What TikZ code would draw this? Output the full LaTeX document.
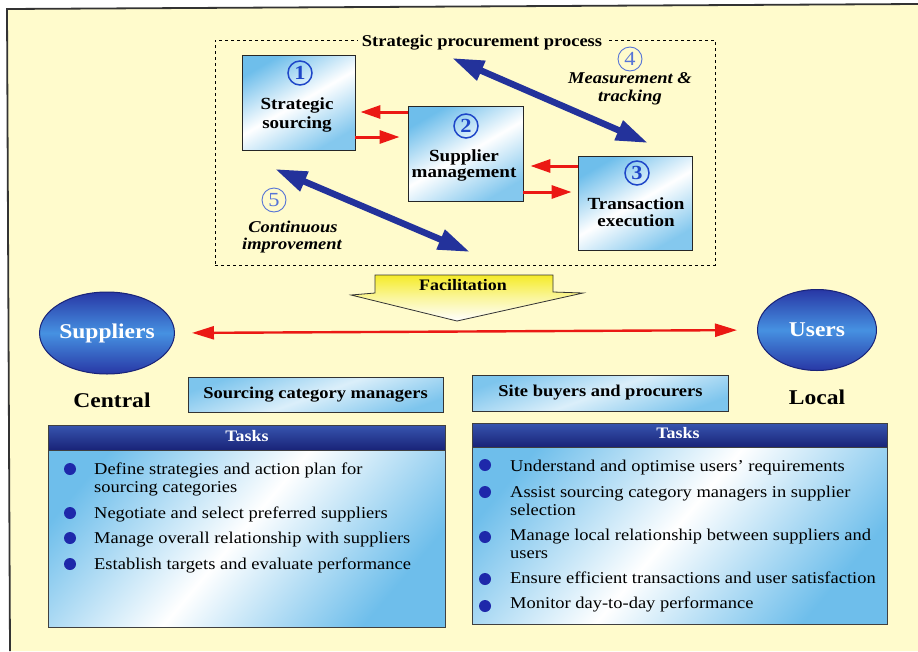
\documentclass[tikz,border=0pt]{standalone}
\usepackage{fontspec}
\setmainfont{Liberation Serif}[FakeStretch=1.12]
\usetikzlibrary{arrows.meta,shapes.geometric}
\definecolor{bgyellow}{RGB}{255,251,204}
\definecolor{boxblue}{RGB}{110,190,235}
\definecolor{navy}{RGB}{25,35,120}
\definecolor{navylight}{RGB}{55,85,175}
\definecolor{ellmid}{RGB}{70,145,225}
\definecolor{elldark}{RGB}{40,55,165}
\definecolor{redarr}{RGB}{235,25,20}
\definecolor{arrblue}{RGB}{35,50,155}
\definecolor{numblue}{RGB}{30,70,200}
\definecolor{facyellow}{RGB}{245,235,40}
\definecolor{dotblue}{RGB}{30,40,170}
\newcommand\fsz[1]{\fontsize{#1}{#1}\selectfont}
\begin{document}
\begin{tikzpicture}[x=1pt,y=-1pt,
  every node/.style={inner sep=0pt},
  procbox/.style={draw=black!85,line width=0.9pt,top color=boxblue,bottom color=boxblue!85,middle color=white,shading angle=30},
  lbl/.style={anchor=base,font=\fsz{17}\bfseries},
  num/.style={circle,draw=numblue,line width=1.5pt,text=numblue,minimum size=24pt,font=\fsz{20}\bfseries},
  numlight/.style={num,line width=0.9pt,draw=numblue!75,text=numblue!75,font=\fsz{20}},
  ital/.style={anchor=base,font=\fsz{16.5}\bfseries\itshape},
  redarrow/.style={draw=redarr,line width=3pt,-{Triangle[length=20pt,width=13pt]}},
  bluearrow/.style={draw=arrblue,line width=6.5pt,{Triangle[length=32pt,width=20pt]}-{Triangle[length=32pt,width=20pt]}},
  ellnode/.style={ellipse,draw=navy,line width=1pt,top color=elldark,bottom color=elldark,middle color=ellmid,text=white,font=\fsz{21}\bfseries},
  bigword/.style={anchor=base,font=\fsz{21}\bfseries},
  rolebox/.style={draw=black!80,line width=0.9pt,left color=boxblue!90,right color=boxblue!90,middle color=white!75!boxblue,shading angle=20,font=\fsz{16.5}\bfseries},
  panel/.style={draw=black!75,line width=0.9pt,left color=boxblue,right color=boxblue,middle color=white,shading angle=50},
  header/.style={draw=black!75,line width=0.9pt,top color=navylight,bottom color=navy},
  headtxt/.style={anchor=base,text=white,font=\fsz{16}\bfseries},
  itemtxt/.style={anchor=base west,font=\fsz{16.5}},
  dot/.style={circle,fill=dotblue,minimum size=12pt}
]
\useasboundingbox (0,0) rectangle (918,651);
\fill[white] (0,0) rectangle (918,651);
\fill[bgyellow] (918,4) -- (7,9) -- (10,651) -- (918,651) -- cycle;
\draw[line width=1.8pt,black!80] (918,4) -- (7,9) -- (10,651);

% strategic procurement process frame
\node[draw,dashed,line width=0.7pt,minimum width=500pt,minimum height=225pt] (proc) at (465,152.5) {};
\node[anchor=base,fill=bgyellow,inner xsep=4pt,inner ysep=2pt,font=\fsz{16.5}\bfseries] (ptitle) at (482,46) {Strategic procurement process};

% process boxes
\node[procbox,minimum width=113pt,minimum height=95pt] (b1) at (298.5,102.5) {};
\node[procbox,minimum width=115pt,minimum height=95pt] (b2) at (465.5,153.5) {};
\node[procbox,minimum width=114pt,minimum height=94pt] (b3) at (635,203) {};

\node[num] (n1) at (300,73) {1};
\node[num] (n2) at (466,126) {2};
\node[num] (n3) at (637,173) {3};
\node[numlight] (n4) at (630,59) {4};
\node[numlight] (n5) at (274,200) {5};

\node[lbl] (l1a) at (297,109) {Strategic};
\node[lbl] (l1b) at (297,128) {sourcing};
\node[lbl] (l2a) at (464,161) {Supplier};
\node[lbl] (l2b) at (464,177) {management};
\node[lbl] (l3a) at (636,209) {Transaction};
\node[lbl] (l3b) at (636,226) {execution};

\node[ital] (m4a) at (630,83) {Measurement \&};
\node[ital] (m4b) at (630,101) {tracking};
\node[ital] (m5a) at (293,232) {Continuous};
\node[ital] (m5b) at (292,249) {improvement};

% red arrows between boxes
\draw[redarrow,shorten >=5pt] ([yshift=41.5pt]b2.west) -- ([yshift=-9.5pt]b1.east);
\draw[redarrow,shorten >=8pt] ([yshift=-34.5pt]b1.east) -- ([yshift=16.5pt]b2.west);
\draw[redarrow,shorten >=7pt] ([yshift=37pt]b3.west) -- ([yshift=-12.5pt]b2.east);
\draw[redarrow,shorten >=6pt] ([yshift=-38.5pt]b2.east) -- ([yshift=11pt]b3.west);

% blue double arrows
\coordinate (a4s) at (452,58);
\coordinate (a4e) at (648,143);
\coordinate (a5s) at (275,169);
\coordinate (a5e) at (470,252);
\draw[bluearrow] (a4s) -- (a4e);
\draw[bluearrow] (a5s) -- (a5e);

% facilitation arrow
\shade[draw=black!80,line width=0.8pt,top color=facyellow,bottom color=white,middle color=facyellow!45!white]
  (375,275) -- (553,275) -- (553,292) -- (583,293) -- (457,321) -- (351,295) -- (375,293) -- cycle;
\node[anchor=base,font=\fsz{16}\bfseries] (fac) at (463,290) {Facilitation};

% suppliers and users
\node[ellnode,minimum width=120pt,minimum height=82pt] (sup) at (107,333) {Suppliers};
\node[ellnode,minimum width=119pt,minimum height=81pt] (usr) at (817,330) {Users};
\draw[draw=redarr,line width=2.4pt,{Triangle[length=22pt,width=13pt]}-{Triangle[length=22pt,width=13pt]},shorten <=17pt,shorten >=20pt] (sup.east) -- (usr.west);

\node[bigword] (central) at (112,407) {Central};
\node[bigword] (local) at (817,404) {Local};

\node[rolebox,minimum width=255pt,minimum height=35pt] (scm) at (315.5,395) {Sourcing category managers};
\node[rolebox,minimum width=256pt,minimum height=36pt] (sbp) at (600.5,393) {Site buyers and procurers};

% left tasks panel
\node[panel,minimum width=397pt,minimum height=202pt] (lp) at (246.5,526) {};
\node[header,minimum width=397pt,minimum height=25pt] (lh) at (246.5,437.5) {};
\node[headtxt] (lht) at (247,441) {Tasks};
\node[dot] (ld1) at (70,469) {};
\node[dot] (ld2) at (70,513) {};
\node[dot] (ld3) at (70,538) {};
\node[dot] (ld4) at (70,564) {};
\node[itemtxt] (lt1a) at (94,474) {Define strategies and action plan for};
\node[itemtxt] (lt1b) at (94,492) {sourcing categories};
\node[itemtxt] (lt2) at (94,518) {Negotiate and select preferred suppliers};
\node[itemtxt] (lt3) at (94,543) {Manage overall relationship with suppliers};
\node[itemtxt] (lt4) at (94,569) {Establish targets and evaluate performance};

% right tasks panel
\node[panel,minimum width=415pt,minimum height=201pt] (rp) at (679.5,523.5) {};
\node[header,minimum width=415pt,minimum height=24pt] (rh) at (679.5,435) {};
\node[headtxt] (rht) at (678,438) {Tasks};
\node[dot] (rd1) at (485,465) {};
\node[dot] (rd2) at (485,492) {};
\node[dot] (rd3) at (485,537) {};
\node[dot] (rd4) at (485,579) {};
\node[dot] (rd5) at (485,606) {};
\node[itemtxt] (rt1) at (510,471) {Understand and optimise users’ requirements};
\node[itemtxt] (rt2a) at (510,497) {Assist sourcing category managers in supplier};
\node[itemtxt] (rt2b) at (510,515) {selection};
\node[itemtxt] (rt3a) at (510,540) {Manage local relationship between suppliers and};
\node[itemtxt] (rt3b) at (510,558) {users};
\node[itemtxt] (rt4) at (510,583) {Ensure efficient transactions and user satisfaction};
\node[itemtxt] (rt5) at (510,608) {Monitor day-to-day performance};
\end{tikzpicture}
\end{document}
